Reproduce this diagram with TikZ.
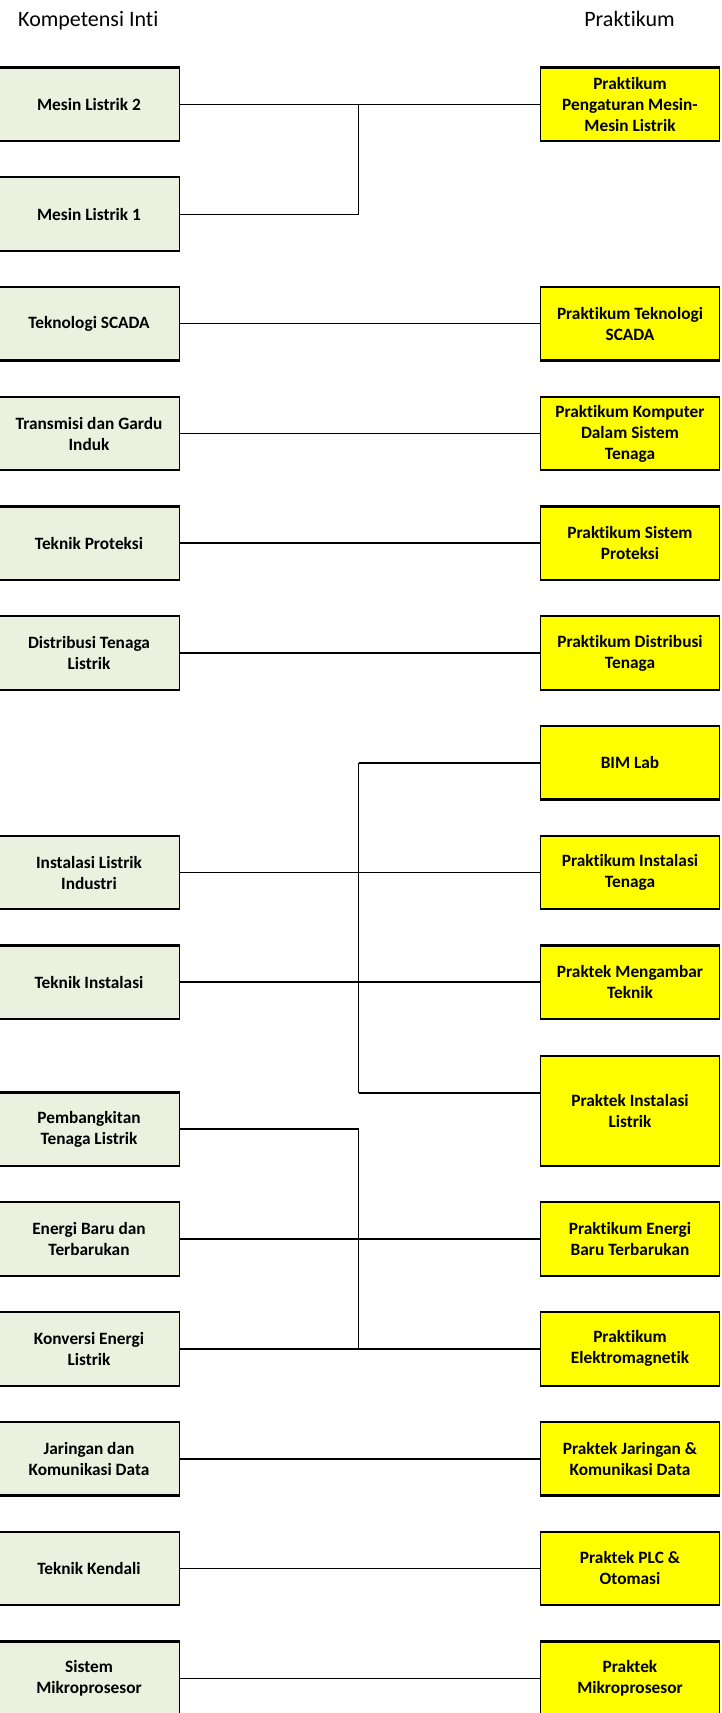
\documentclass[tikz,border=0pt]{standalone}
\usepackage{fontspec}
\setmainfont[Ligatures={NoCommon}]{Carlito}
\usetikzlibrary{calc}
\definecolor{leftfill}{RGB}{235,241,222}
\definecolor{rightfill}{RGB}{255,255,0}
\tikzset{
 box/.style={draw=black, line width=1pt, inner sep=0pt, align=center, anchor=north west, minimum height=72.5pt, font=\fontsize{17.3}{21}\selectfont\bfseries},
 lbox/.style={box, fill=leftfill, minimum width=181pt},
 rbox/.style={box, fill=rightfill, minimum width=179pt},
 hdr/.style={font=\fontsize{22}{26}\selectfont, anchor=base, inner sep=0pt},
 thinln/.style={line width=1pt},
 thickln/.style={line width=1.9pt},
 edgeln/.style={line width=2.2pt}
}
\begin{document}
\begin{tikzpicture}[x=1pt,y=-1pt]
\useasboundingbox (0,0) rectangle (721,1713);
% headers
\node[hdr] (h1) at (88.3,26.7) {Kompetensi Inti};
\node[hdr] (h2) at (629.5,26.7) {Praktikum};
% left boxes
\node[lbox] (L1) at (-2,67.5) {Mesin Listrik 2};
\node[lbox] (L2) at (-2,177.25) {Mesin Listrik 1};
\node[lbox] (L3) at (-2,287) {Teknologi SCADA};
\node[lbox] (L4) at (-2,396.75) {Transmisi dan Gardu\\Induk};
\node[lbox] (L5) at (-2,506.5) {Teknik Proteksi};
\node[lbox] (L6) at (-2,616.25) {Distribusi Tenaga\\Listrik};
\node[lbox] (L8) at (-2,835.75) {Instalasi Listrik\\Industri};
\node[lbox] (L9) at (-2,945.5) {Teknik Instalasi};
\node[lbox] (L10) at (-2,1092.5) {Pembangkitan\\Tenaga Listrik};
\node[lbox] (L11) at (-2,1202.3) {Energi Baru dan\\Terbarukan};
\node[lbox] (L12) at (-2,1312.1) {Konversi Energi\\Listrik};
\node[lbox] (L13) at (-2,1421.9) {Jaringan dan\\Komunikasi Data};
\node[lbox] (L14) at (-2,1531.7) {Teknik Kendali};
\node[lbox] (L15) at (-2,1641.5) {Sistem\\Mikroprosesor};
% right boxes
\node[rbox] (R1) at (540,67.5) {Praktikum\\Pengaturan Mesin-\\Mesin Listrik};
\node[rbox] (R3) at (540,287) {Praktikum Teknologi\\SCADA};
\node[rbox] (R4) at (540,396.75) {Praktikum Komputer\\Dalam Sistem\\Tenaga};
\node[rbox] (R5) at (540,506.5) {Praktikum Sistem\\Proteksi};
\node[rbox] (R6) at (540,616.25) {Praktikum Distribusi\\Tenaga};
\node[rbox] (R7) at (540,726) {BIM Lab};
\node[rbox] (R8) at (540,835.75) {Praktikum Instalasi\\Tenaga};
\node[rbox] (R9) at (540,945.5) {Praktek Mengambar\\Teknik};
\node[rbox, minimum height=109.5pt] (R10) at (540,1055.8) {Praktek Instalasi\\Listrik};
\node[rbox] (R11) at (540,1202.3) {Praktikum Energi\\Baru Terbarukan};
\node[rbox] (R12) at (540,1312.1) {Praktikum\\Elektromagnetik};
\node[rbox] (R13) at (540,1421.9) {Praktek Jaringan \&\\Komunikasi Data};
\node[rbox] (R14) at (540,1531.7) {Praktek PLC \&\\Otomasi};
\node[rbox] (R15) at (540,1641.5) {Praktek\\Mikroprosesor};
% thick top and bottom edges
\foreach \n in {L1,L2,L3,L4,L5,L6,L8,L9,L10,L11,L12,L13,L14,L15,R1,R3,R4,R5,R6,R7,R8,R9,R10,R11,R12,R13,R14,R15}{
  \draw[edgeln] (\n.north west) -- (\n.north east);
  \draw[edgeln] (\n.south west) -- (\n.south east);
}
% junction column
\coordinate (jx) at (358.6,0);
\coordinate (jP) at (358.6,1092.7);
% group 1
\draw[thinln] (L1.east) -- (R1.west);
\draw[thinln] (L2.east) -- (jx |- L2.east) -- (jx |- L1.east);
% straight rows
\draw[thinln] (L3.east) -- (R3.west);
\draw[thickln] (L4.east) -- (R4.west);
\draw[thickln] (L5.east) -- (R5.west);
\draw[thickln] (L6.east) -- (R6.west);
% group 2
\draw[thinln] (jx |- R7.west) -- (jP);
\draw[thickln] (jx |- R7.west) -- (R7.west);
\draw[thickln] (L8.east) -- (R8.west);
\draw[thickln] (L9.east) -- (R9.west);
\draw[thickln] (jP) -- (R10.west |- jP);
% group 3
\draw[thinln] (jx |- L10.east) -- (jx |- L12.east);
\draw[thickln] (L10.east) -- (jx |- L10.east);
\draw[thickln] (L11.east) -- (R11.west);
\draw[thickln] (L12.east) -- (R12.west);
% bottom rows
\draw[thickln] (L13.east) -- (R13.west);
\draw[thinln] (L14.east) -- (R14.west);
\draw[thinln] (L15.east) -- (R15.west);
\end{tikzpicture}
\end{document}
